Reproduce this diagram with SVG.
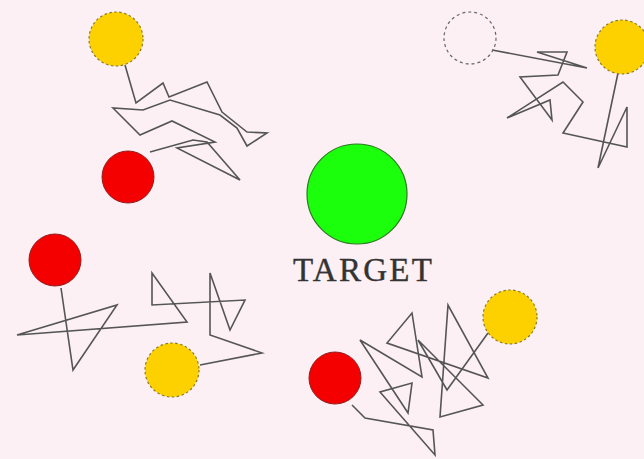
<svg xmlns="http://www.w3.org/2000/svg" width="644" height="459" viewBox="0 0 644 459">
<style>
.bg{fill:#fcf0f4}
.walk{fill:none;stroke:#555;stroke-width:1.6;stroke-linejoin:miter}
.yellow{fill:#fdd000;stroke:#8a7a20;stroke-width:1.2;stroke-dasharray:2.5 2.5}
.empty{fill:none;stroke:#666;stroke-width:1.2;stroke-dasharray:3 3}
.red{fill:#f50000;stroke:#902020;stroke-width:1}
.green{fill:#1cff0c;stroke:#2a7a20;stroke-width:1.2}
.label{font-family:"Liberation Serif","Times New Roman",serif;font-size:33px;fill:#333;stroke:#333;stroke-width:0.4}
</style>
<rect class="bg" width="644" height="459"/>
<g id="connectors">
<polyline class="walk" points="125,65 136,103 163,83 169,97 207,82 222,112 247,132 267,133 247,146 237,128 220,115 170,100 143,110 113,108 140,135 172,121 215,142 177,148 240,180 207,142 193,140 150,152"/>
<polyline class="walk" points="492,50 587,68 537,52 567,52 558,75 520,77 552,120 550,100 507,118 563,82 583,102 563,133 627,147 627,107 598,168 618,73"/>
<polyline class="walk" points="61,288 73,370 117,305 17,335 187,322 152,273 152,305 245,300 230,330 210,273 210,335 262,353 200,365"/>
<polyline class="walk" points="352,405 365,418 433,430 435,455 380,392 412,383 408,413 360,340 422,377 412,313 387,343 488,378 448,305 440,417 483,405 418,340 447,390 488,333"/>
</g>
<g id="yellow1"><circle class="yellow" cx="116" cy="39" r="27"/></g>
<g id="red1"><circle class="red" cx="128" cy="177" r="26"/></g>
<g id="empty1"><circle class="empty" cx="470" cy="38" r="26"/></g>
<g id="yellow2"><circle class="yellow" cx="622" cy="47" r="27"/></g>
<g id="red2"><circle class="red" cx="55" cy="260" r="26"/></g>
<g id="yellow3"><circle class="yellow" cx="172" cy="370" r="27"/></g>
<g id="red3"><circle class="red" cx="335" cy="378" r="26"/></g>
<g id="yellow4"><circle class="yellow" cx="510" cy="317" r="27"/></g>
<g id="target">
<circle class="green" cx="357" cy="194" r="50"/>
<text class="label" x="293" y="281" textLength="139" lengthAdjust="spacing">TARGET</text>
</g>
</svg>
